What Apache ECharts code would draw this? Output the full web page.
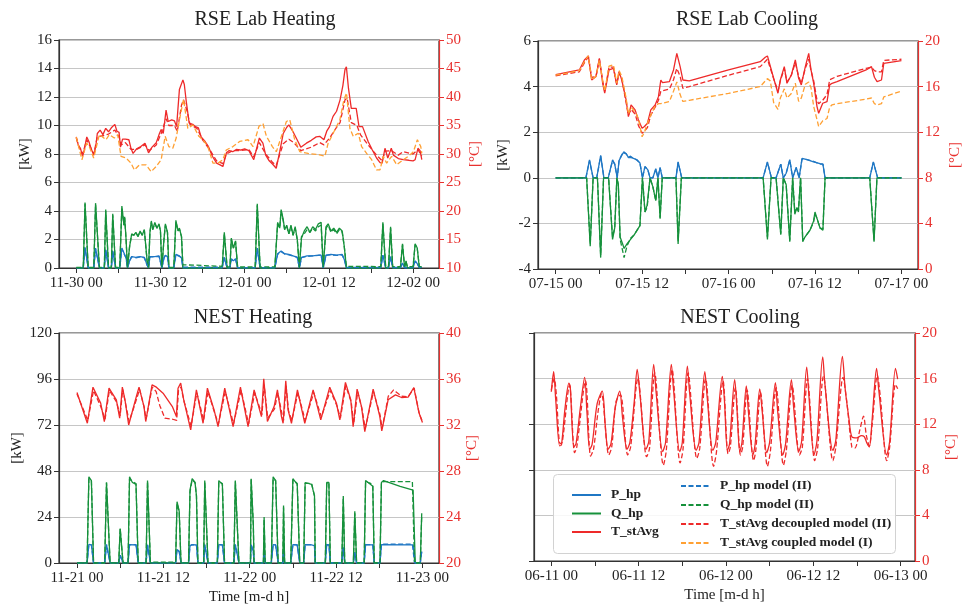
<!DOCTYPE html>
<html>
<head>
<meta charset="utf-8">
<title>Heat pump model validation</title>
<script src="https://cdn.jsdelivr.net/npm/echarts@6.0.0/dist/echarts.min.js"></script>
<style>
html, body { margin: 0; padding: 0; background: #fff; }
#chart { width: 962px; height: 610px; }
</style>
</head>
<body>
<div id="chart"></div>
<script>
// x values are hours since the first tick of each panel

// ---- RSE Lab Heating ----
var rseHeatTicks = ['11-30 00', '11-30 12', '12-01 00', '12-01 12', '12-02 00'];
var rseHeatP = [[0,0],[1.0,0],[1.25,1.45],[1.7,0],[2.5,0],[2.75,1.4],[3.3,0],[4.0,0],[4.2,1.3],[4.6,0],[5.0,0],[5.2,1.2],[5.6,0],[6.2,0],[6.5,1.4],[6.8,1.05],[7.1,0.7],[7.3,0],[7.6,0.5],[7.9,0.8],[8.5,0.75],[9.1,0.8],[9.7,0.75],[9.9,0.8],[10.1,0.2],[10.3,0],[10.5,0.8],[10.7,0.9],[11.2,0.8],[11.8,0.85],[12.0,0.8],[12.2,0],[12.5,0.7],[12.7,0.9],[13.0,0.8],[13.2,0],[13.9,0],[14.2,0.95],[14.7,0.85],[15.0,0.7],[15.2,0],[20.8,0],[21.1,0.75],[21.5,0],[21.9,0],[22.1,0.65],[22.4,0.5],[22.7,0.65],[23.0,0],[25.5,0],[25.8,1.4],[26.2,0],[28.3,0],[28.7,1.0],[29.2,1.2],[29.7,1.0],[30.3,0.95],[30.9,0.85],[31.5,0.75],[31.8,0],[32.1,0.75],[32.9,0.85],[33.7,0.85],[34.5,0.9],[34.9,0.9],[35.2,0],[35.6,0.9],[36.3,0.95],[37.1,0.9],[37.9,0.95],[38.2,0.6],[38.5,0],[43.4,0],[43.7,0.9],[44.1,0],[44.5,0],[44.8,0.8],[45.1,0],[46.2,0],[46.5,0.35],[46.8,0],[48.0,0],[48.3,0.5],[48.6,0.3],[48.9,0],[49.25,0.05]];
var rseHeatQ = [[0,0],[1.0,0],[1.25,4.6],[1.7,0],[2.5,0],[2.75,4.55],[3.3,0],[4.0,0],[4.2,4.1],[4.6,0],[5.0,0],[5.2,3.8],[5.6,0],[6.2,0],[6.5,4.35],[6.8,3.0],[6.9,3.6],[7.1,2.0],[7.3,0],[7.6,1.5],[7.9,2.4],[8.2,2.3],[8.5,2.5],[8.8,2.2],[9.1,2.6],[9.4,2.3],[9.7,2.7],[9.9,2.8],[10.1,0.5],[10.3,0],[10.5,2.5],[10.7,3.3],[10.9,2.7],[11.2,3.2],[11.5,2.8],[11.8,3.1],[12.0,2.6],[12.2,0],[12.5,2.0],[12.7,3.1],[13.0,2.5],[13.2,0],[13.9,0],[14.2,3.35],[14.5,2.6],[14.7,2.8],[15.0,2.2],[15.2,0],[20.8,0],[21.1,2.5],[21.5,0],[21.9,0],[22.1,2.1],[22.4,1.4],[22.7,1.9],[23.0,0],[25.5,0],[25.8,4.5],[26.2,0],[28.3,0],[28.7,3.2],[29.0,2.8],[29.2,4.1],[29.5,3.4],[29.7,2.7],[30.0,3.0],[30.3,2.4],[30.6,3.0],[30.9,2.3],[31.2,2.9],[31.5,2.0],[31.8,0],[32.1,2.1],[32.5,2.6],[32.9,2.9],[33.3,2.5],[33.7,2.9],[34.1,2.7],[34.5,3.1],[34.9,3.2],[35.2,0],[35.6,2.9],[35.9,3.1],[36.3,2.6],[36.7,2.8],[37.1,2.5],[37.5,2.8],[37.9,2.6],[38.2,1.5],[38.5,0],[43.4,0],[43.7,3.2],[44.1,0],[44.5,0],[44.8,2.9],[45.1,0],[46.2,0],[46.5,1.7],[46.8,0],[47.0,0.5],[47.2,0],[48.0,0],[48.3,1.7],[48.6,1.4],[48.9,0],[49.25,0.1]];
var rseHeatT = [[0,33.0],[0.3,31.5],[0.6,31.0],[0.9,29.6],[1.1,30.5],[1.5,33.0],[1.8,32.2],[2.1,31.0],[2.5,29.8],[2.8,31.5],[3.0,33.6],[3.4,34.2],[3.8,33.4],[4.2,34.5],[4.6,33.9],[5.0,34.6],[5.5,35.2],[5.8,34.0],[6.1,33.8],[6.3,31.2],[6.6,32.6],[7.0,32.6],[7.5,32.5],[7.8,31.0],[8.1,30.1],[8.6,30.9],[9.2,31.3],[9.8,31.9],[10.3,30.2],[10.8,31.2],[11.4,32.0],[11.8,33.4],[12.1,34.3],[12.4,33.6],[12.8,37.7],[13.1,35.7],[13.6,36.0],[14.0,35.8],[14.3,34.8],[14.7,41.3],[15.2,43.0],[15.4,42.2],[15.7,39.0],[16.1,35.4],[16.6,35.2],[17.0,34.8],[17.4,34.6],[17.8,33.0],[18.3,32.3],[18.8,31.4],[19.4,29.6],[20.0,28.4],[20.5,28.1],[20.9,27.8],[21.4,30.2],[21.8,30.6],[22.3,30.4],[22.8,30.8],[23.4,30.7],[24.0,30.9],[24.6,30.6],[25.3,29.0],[25.8,31.4],[26.1,32.8],[26.6,31.9],[27.0,29.8],[27.5,28.8],[28.0,28.2],[28.5,27.5],[29.0,30.4],[29.5,33.6],[30.0,34.7],[30.3,35.1],[30.9,33.9],[31.6,32.2],[32.0,31.2],[32.8,31.9],[33.5,32.4],[34.2,33.0],[34.7,33.1],[35.3,32.5],[35.7,34.0],[36.1,34.8],[36.6,36.6],[37.1,37.5],[37.6,39.5],[38.0,42.0],[38.3,44.8],[38.5,45.3],[38.8,41.5],[39.2,38.0],[39.9,38.0],[40.3,34.8],[40.8,34.8],[41.6,32.2],[42.2,30.7],[42.8,29.3],[43.3,28.5],[43.6,28.4],[44.0,31.0],[44.4,29.3],[44.9,31.0],[45.2,29.8],[45.9,29.2],[46.6,29.0],[47.4,28.9],[48.0,28.8],[48.3,29.0],[48.7,31.0],[49.0,30.6],[49.25,29.0]];
var rseHeatPm = [[0,0.02],[1.0,0.02],[1.25,1.4],[1.7,0.02],[2.5,0.02],[2.75,1.35],[3.3,0.02],[4.0,0.02],[4.2,1.25],[4.6,0.02],[5.0,0.02],[5.2,1.15],[5.6,0.02],[6.2,0.02],[6.5,1.35],[6.8,1.0],[7.1,0.7],[7.3,0.02],[7.6,0.5],[7.9,0.8],[8.5,0.72],[9.1,0.78],[9.7,0.72],[9.9,0.78],[10.1,0.2],[10.3,0.02],[10.5,0.8],[10.7,0.88],[11.2,0.78],[11.8,0.82],[12.0,0.8],[12.2,0.02],[12.5,0.7],[12.7,0.88],[13.0,0.8],[13.2,0.02],[13.9,0.02],[14.2,0.92],[14.7,0.82],[15.0,0.7],[15.2,0.06],[20.8,0.05],[21.1,0.72],[21.5,0.03],[21.9,0.03],[22.1,0.62],[22.4,0.5],[22.7,0.62],[23.0,0.03],[25.5,0.03],[25.8,1.35],[26.2,0.03],[28.3,0.03],[28.7,0.95],[29.2,1.15],[29.7,0.98],[30.3,0.92],[30.9,0.85],[31.5,0.75],[31.8,0.03],[32.1,0.72],[32.9,0.82],[33.7,0.85],[34.5,0.88],[34.9,0.9],[35.2,0.03],[35.6,0.88],[36.3,0.92],[37.1,0.88],[37.9,0.92],[38.2,0.6],[38.5,0.05],[43.4,0.04],[43.7,0.88],[44.1,0.04],[44.5,0.04],[44.8,0.78],[45.1,0.04],[46.2,0.04],[46.5,0.35],[46.8,0.04],[48.0,0.04],[48.3,0.48],[48.6,0.3],[48.9,0.04],[49.25,0.05]];
var rseHeatQm = [[0,0.05],[1.0,0.05],[1.25,4.5],[1.7,0.05],[2.5,0.05],[2.75,4.45],[3.3,0.05],[4.0,0.05],[4.2,4.0],[4.6,0.05],[5.0,0.05],[5.2,3.7],[5.6,0.05],[6.2,0.05],[6.5,4.25],[6.8,3.0],[6.9,3.5],[7.1,2.0],[7.3,0.05],[7.6,1.5],[7.9,2.35],[8.2,2.3],[8.5,2.45],[8.8,2.25],[9.1,2.55],[9.4,2.3],[9.7,2.65],[9.9,2.7],[10.1,0.5],[10.3,0.05],[10.5,2.5],[10.7,3.2],[10.9,2.7],[11.2,3.1],[11.5,2.8],[11.8,3.0],[12.0,2.6],[12.2,0.05],[12.5,2.0],[12.7,3.0],[13.0,2.5],[13.2,0.05],[13.9,0.05],[14.2,3.25],[14.5,2.6],[14.7,2.75],[15.0,2.2],[15.2,0.22],[17.0,0.2],[19.0,0.15],[20.8,0.12],[21.1,2.4],[21.5,0.08],[21.9,0.08],[22.1,2.0],[22.4,1.4],[22.7,1.85],[23.0,0.08],[25.5,0.08],[25.8,4.4],[26.2,0.08],[28.3,0.08],[28.7,3.1],[29.0,2.8],[29.2,4.0],[29.5,3.3],[29.7,2.7],[30.0,2.9],[30.3,2.4],[30.6,2.9],[30.9,2.3],[31.2,2.8],[31.5,2.0],[31.8,0.08],[32.1,2.2],[32.5,2.4],[32.9,2.7],[33.3,2.5],[33.7,2.8],[34.1,2.6],[34.5,2.9],[34.9,3.0],[35.2,0.08],[35.6,2.8],[35.9,3.0],[36.3,2.5],[36.7,2.7],[37.1,2.4],[37.5,2.7],[37.9,2.5],[38.2,1.5],[38.5,0.12],[43.4,0.1],[43.7,3.1],[44.1,0.1],[44.5,0.1],[44.8,2.8],[45.1,0.1],[46.2,0.1],[46.5,1.65],[46.8,0.1],[47.0,0.45],[47.2,0.1],[48.0,0.1],[48.3,1.65],[48.6,1.35],[48.9,0.1],[49.25,0.1]];
var rseHeatTdec = [[0,32.8],[0.4,31.2],[0.9,30.0],[1.5,32.5],[2.5,30.0],[3.0,33.0],[3.8,33.2],[4.6,33.5],[5.5,34.2],[6.1,33.0],[6.4,31.6],[7.0,32.0],[7.8,30.8],[8.6,30.8],[9.8,31.6],[10.4,30.6],[11.4,31.6],[12.1,33.6],[12.8,36.2],[13.2,35.0],[14.0,35.0],[14.4,34.0],[15.0,38.6],[15.3,39.5],[15.8,37.5],[16.2,35.2],[17.2,34.5],[18.0,32.5],[19.0,30.8],[20.0,28.8],[20.9,28.3],[21.4,30.0],[22.3,30.6],[23.4,30.6],[24.6,30.8],[25.3,29.5],[26.1,32.0],[27.0,30.0],[28.0,28.5],[28.5,28.0],[29.5,31.8],[30.3,32.6],[31.0,32.0],[32.0,30.6],[33.5,31.2],[34.7,32.0],[35.3,31.6],[36.1,32.8],[37.0,34.5],[37.6,35.5],[38.3,39.5],[38.6,39.8],[39.2,35.5],[40.0,35.0],[40.5,33.4],[41.6,31.6],[42.8,29.8],[43.6,28.8],[44.0,30.5],[44.9,30.6],[45.9,29.8],[46.6,30.4],[48.0,30.0],[48.7,30.8],[49.25,29.6]];
var rseHeatTcou = [[0,32.95],[0.81,29.0],[1.48,31.9],[1.86,31.3],[2.48,29.3],[3.29,33.4],[4.24,32.5],[4.71,33.4],[5.43,32.8],[5.9,33.4],[6.38,29.6],[7.1,29.3],[7.8,28.4],[8.29,27.2],[9.0,28.1],[9.95,28.1],[10.67,26.9],[11.38,27.8],[12.1,29.0],[12.67,33.1],[13.19,31.3],[13.76,31.0],[14.24,32.8],[14.71,36.0],[15.29,39.6],[15.9,34.5],[16.62,35.1],[17.48,33.1],[18.05,32.5],[18.76,31.3],[19.48,28.4],[20.2,28.4],[20.9,29.0],[21.38,30.7],[22.33,31.3],[23.29,32.2],[24.48,32.5],[25.19,31.3],[26.05,34.9],[26.62,35.3],[27.1,33.1],[27.95,31.3],[28.52,30.4],[29.24,33.1],[29.95,35.7],[30.43,36.0],[31.14,32.5],[31.86,30.4],[33.05,30.1],[34.71,29.85],[35.43,29.6],[35.9,31.9],[36.62,33.65],[37.57,36.0],[38.14,39.5],[38.52,40.7],[39.0,34.5],[39.48,33.1],[40.19,33.65],[40.67,31.3],[41.38,30.1],[42.1,29.0],[42.8,27.2],[43.29,27.2],[43.76,29.6],[44.24,28.4],[44.95,29.6],[45.67,28.1],[46.62,29.0],[47.33,29.6],[48.05,30.4],[48.62,32.5],[49.1,31.3],[49.25,30.1]];

// ---- RSE Lab Cooling ----
var rseCoolTicks = ['07-15 00', '07-15 12', '07-16 00', '07-16 12', '07-17 00'];
var rseCoolP = [[0,0],[4.2,0],[4.7,0.79],[5.2,0],[5.7,0],[6.25,0.98],[6.7,0],[7.3,0],[7.9,0.79],[8.2,0.6],[8.55,0],[8.8,0.75],[9.1,0.95],[9.4,1.1],[9.8,1.05],[10.1,0.9],[10.4,0.95],[10.8,0.85],[11.25,0.8],[11.7,0.65],[12.05,0],[12.4,0.5],[12.8,0.35],[13.1,0],[13.5,0],[13.9,0.4],[14.2,0],[14.5,0.45],[14.8,0],[16.7,0],[17.0,0.7],[17.5,0],[28.8,0],[29.4,0.7],[29.95,0],[30.6,0],[31.25,0.6],[31.6,0],[32.0,0.2],[32.5,0.8],[32.9,0],[33.0,0],[33.4,0.45],[33.8,0],[34.2,0.85],[34.9,0.8],[35.8,0.7],[36.7,0.62],[37.1,0.6],[37.4,0],[43.6,0],[44.1,0.7],[44.7,0],[48,0]];
var rseCoolQ = [[0,0],[4.3,0],[4.8,-3.0],[5.2,0],[5.8,0],[6.25,-3.5],[6.65,0],[7.35,0],[7.9,-2.7],[8.2,-2.2],[8.5,0],[8.7,-0.3],[8.95,-2.6],[9.3,-2.9],[9.5,-3.1],[9.9,-2.9],[10.4,-2.7],[10.9,-2.5],[11.7,-2.1],[12.05,0],[12.4,-1.5],[12.7,-1.2],[13.1,0],[13.5,-0.4],[13.9,-1.0],[14.2,0],[14.5,-1.8],[14.8,0],[16.7,0],[17.0,-2.9],[17.45,0],[28.8,0],[29.4,-2.7],[29.9,0],[30.6,0],[31.25,-2.5],[31.6,0],[32.0,-0.3],[32.5,-2.8],[32.9,0],[33.2,-1.6],[33.5,-1.3],[33.7,-1.5],[34.0,0],[34.3,-2.8],[34.6,-2.6],[35.3,-2.3],[35.8,-1.9],[36.0,-1.5],[36.3,-1.8],[36.7,-2.2],[37.1,-2.3],[37.4,0],[43.6,0],[44.2,-2.8],[44.6,0],[48,0]];
var rseCoolT = [[0,17.05],[3.29,17.46],[3.99,18.34],[4.54,18.69],[5.0,16.58],[5.6,16.88],[6.07,18.48],[6.53,16.29],[6.81,15.42],[7.41,17.46],[8.02,17.6],[8.48,16.15],[8.8,17.31],[9.18,16.58],[9.78,14.83],[10.1,13.37],[10.47,14.39],[11.03,13.96],[11.49,13.08],[12.0,12.35],[12.33,12.5],[12.74,12.79],[13.21,13.96],[13.81,14.39],[14.27,15.12],[14.6,16.58],[14.83,16.35],[15.8,16.44],[16.36,17.46],[16.82,18.92],[17.28,17.75],[17.66,16.58],[18.54,16.5],[24.0,17.46],[28.4,18.19],[29.1,18.57],[29.4,18.69],[30.26,16.73],[30.86,15.42],[31.19,16.58],[31.74,17.75],[32.11,16.29],[32.72,17.02],[33.27,18.34],[33.73,16.73],[34.1,16.15],[34.66,17.75],[35.13,18.92],[35.45,17.46],[35.82,16.29],[36.28,14.25],[36.51,13.66],[37.07,14.54],[37.67,14.69],[38.04,16.15],[38.37,16.29],[39.06,16.44],[43.1,17.46],[43.84,17.75],[44.25,16.82],[44.62,16.44],[45.23,16.58],[45.55,18.04],[48.0,18.28]];
var rseCoolPm = [[0,0],[4.2,0],[4.7,0.75],[5.2,0],[5.7,0],[6.25,0.95],[6.7,0],[7.3,0],[7.9,0.75],[8.2,0.6],[8.55,0],[8.8,0.75],[9.1,0.95],[9.4,1.15],[9.8,1.05],[10.1,0.88],[10.4,0.9],[10.8,0.85],[11.25,0.78],[11.7,0.65],[12.05,0],[12.4,0.48],[12.8,0.35],[13.1,0],[13.5,0],[13.9,0.38],[14.2,0],[14.5,0.45],[14.8,0],[16.7,0],[17.0,0.68],[17.5,0],[28.8,0],[29.4,0.68],[29.95,0],[30.6,0],[31.25,0.6],[31.6,0],[32.0,0.2],[32.5,0.78],[32.9,0],[33.0,0],[33.4,0.45],[33.8,0],[34.2,0.82],[34.9,0.8],[35.8,0.72],[36.7,0.6],[37.1,0.6],[37.4,0],[43.6,0],[44.1,0.68],[44.7,0],[48,0]];
var rseCoolQm = [[0,0],[4.3,0],[4.8,-2.9],[5.2,0],[5.8,0],[6.25,-3.4],[6.65,0],[7.35,0],[7.9,-2.6],[8.2,-2.2],[8.5,0],[8.7,-0.3],[8.95,-2.7],[9.3,-3.2],[9.5,-3.5],[9.9,-3.0],[10.4,-2.65],[10.9,-2.5],[11.7,-2.1],[12.05,0],[12.4,-1.5],[12.7,-1.3],[13.1,0],[13.5,-0.4],[13.9,-1.0],[14.2,0],[14.5,-1.75],[14.8,0],[16.7,0],[17.0,-2.8],[17.45,0],[28.8,0],[29.4,-2.6],[29.9,0],[30.6,0],[31.25,-2.45],[31.6,0],[32.0,-0.3],[32.5,-2.75],[32.9,0],[33.2,-1.5],[33.5,-1.3],[33.7,-1.45],[34.0,0],[34.3,-2.75],[34.6,-2.6],[35.3,-2.3],[35.8,-1.95],[36.0,-1.6],[36.3,-1.8],[36.7,-2.2],[37.1,-2.25],[37.4,0],[43.6,0],[44.2,-2.75],[44.6,0],[48,0]];
var rseCoolTdec = [[0,16.95],[3.29,17.3],[4.0,18.1],[4.54,18.6],[5.0,16.8],[5.6,16.9],[6.07,18.4],[6.53,16.5],[6.81,15.6],[7.41,17.7],[8.02,17.7],[8.48,16.2],[8.8,17.2],[9.18,16.7],[9.78,14.6],[10.1,13.5],[10.47,14.0],[11.03,13.6],[11.49,12.6],[12.0,11.9],[12.33,12.1],[12.74,12.4],[13.21,13.5],[13.81,14.2],[14.27,14.8],[14.6,15.6],[14.83,15.7],[15.8,15.8],[16.36,16.6],[16.82,17.6],[17.28,16.9],[17.66,15.85],[18.54,16.0],[24.0,17.0],[28.4,17.75],[29.1,18.2],[29.4,18.4],[30.26,16.7],[30.86,15.6],[31.19,16.5],[31.74,17.6],[32.11,16.4],[32.72,17.0],[33.27,18.1],[33.73,16.9],[34.1,16.3],[34.66,17.6],[35.13,18.4],[35.45,17.4],[35.82,16.5],[36.28,14.8],[36.51,14.5],[37.07,14.8],[37.67,15.3],[38.04,16.6],[39.06,16.9],[43.1,17.6],[43.84,17.7],[44.25,17.4],[44.62,17.3],[45.23,17.3],[45.55,18.3],[48.0,18.4]];
var rseCoolTcou = [[0,17.0],[3.29,17.4],[4.0,18.2],[4.54,18.7],[5.0,16.6],[5.6,16.9],[6.07,18.3],[6.53,16.5],[6.81,15.6],[7.41,17.8],[8.02,17.9],[8.48,16.3],[8.8,17.4],[9.18,16.9],[9.78,15.0],[10.1,13.6],[10.47,14.2],[11.03,13.8],[11.49,13.2],[12.0,11.6],[12.33,12.0],[12.74,12.8],[13.21,13.5],[13.81,14.3],[14.27,14.5],[14.6,14.5],[15.8,14.7],[16.36,15.6],[16.82,16.4],[17.28,15.3],[17.66,14.7],[18.54,14.8],[24.0,15.4],[28.4,16.0],[29.1,16.5],[29.4,16.7],[29.8,16.5],[30.26,14.6],[30.86,14.0],[31.19,15.0],[31.74,15.8],[32.11,15.0],[32.72,15.4],[33.27,16.3],[33.73,14.7],[34.1,15.0],[34.66,16.2],[35.13,16.4],[35.45,15.9],[35.82,14.25],[36.28,13.1],[36.51,12.5],[37.07,13.0],[37.67,13.2],[38.04,14.2],[38.37,14.4],[39.06,14.5],[43.1,14.9],[43.84,15.0],[44.25,14.5],[44.62,14.4],[45.23,14.5],[45.55,15.1],[48.0,15.6]];

// ---- NEST Heating ----
var nestHeatTicks = ['11-21 00', '11-21 12', '11-22 00', '11-22 12', '11-23 00'];
var nestHeatP = [[0,0],[1.4,0],[1.65,9.7],[2.0,9.5],[2.3,0],[3.85,0],[4.1,9.6],[4.35,9.5],[4.6,0],[5.8,0],[6.0,4],[6.25,4],[6.4,0],[7.1,0],[7.3,9.6],[8.2,9.5],[8.5,0],[9.6,0],[9.8,9.5],[10.0,9.4],[10.2,0],[13.7,0],[13.9,7],[14.2,6],[14.45,0],[15.5,0],[15.7,9],[16.0,9.6],[16.6,9.4],[16.8,0],[17.6,0],[17.75,9.6],[18.0,9.5],[18.2,0],[19.5,0],[19.7,9.6],[20.2,9.5],[20.5,0],[21.8,0],[22.0,9.6],[22.2,9.5],[22.5,0],[24.1,0],[24.2,9.6],[24.5,6],[24.6,0],[25.9,0],[26.0,5.5],[26.15,0],[27.0,0],[27.25,9.6],[27.6,9.5],[27.95,0],[28.6,0],[28.7,6.5],[28.85,0],[29.7,0],[30.0,9.6],[30.6,9.5],[30.95,0],[31.5,0],[31.7,9.6],[32.6,9.5],[33.0,9],[33.1,0],[34.5,0],[34.7,9.6],[35.0,9.5],[35.2,0],[36.8,0],[37.0,8],[37.2,0],[38.4,0],[38.6,5.5],[38.85,0],[39.9,0],[40.1,9.6],[41.1,9.5],[41.3,0],[42.1,0],[42.3,9.6],[46.7,9.5],[47.0,0],[47.7,0],[47.9,6]];
var nestHeatQ = [[0,0],[1.4,0],[1.65,45],[2.0,43],[2.3,0],[3.85,0],[4.1,42],[4.35,43],[4.6,0],[5.8,0],[6.0,18],[6.25,18],[6.4,0],[7.1,0],[7.3,45],[7.7,42],[8.2,41],[8.5,0],[9.6,0],[9.8,43],[10.0,42],[10.2,0],[13.7,0],[13.9,32],[14.2,27],[14.45,0],[15.5,0],[15.7,38],[16.0,44],[16.4,42],[16.6,35],[16.8,0],[17.6,0],[17.75,43],[18.0,42],[18.2,0],[19.5,0],[19.7,43],[20.2,41],[20.5,0],[21.8,0],[22.0,43],[22.2,42],[22.5,0],[24.1,0],[24.2,44],[24.5,20],[24.6,0],[25.9,0],[26.0,24],[26.15,0],[27.0,0],[27.25,45],[27.6,43],[27.95,0],[28.6,0],[28.7,30],[28.85,0],[29.7,0],[30.0,44],[30.6,41],[30.95,0],[31.5,0],[31.7,42],[32.6,41],[33.0,35],[33.1,0],[34.5,0],[34.7,42],[35.0,42],[35.2,0],[36.8,0],[37.0,35],[37.2,0],[38.4,0],[38.6,27],[38.85,0],[39.9,0],[40.1,43],[40.8,41],[41.1,40],[41.3,0],[42.1,0],[42.3,42],[42.6,43],[44.9,40],[46.7,38],[47.0,0],[47.7,0],[47.9,26]];
var nestHeatT = [[0,34.83],[1.44,32.15],[2.22,35.29],[3.29,33.9],[3.8,32.3],[4.45,35.2],[5.47,34.19],[5.93,32.59],[6.3,35.29],[6.67,34.19],[7.18,32.0],[8.25,34.48],[8.62,35.29],[9.31,33.6],[9.55,32.3],[10.43,35.49],[11.03,35.29],[11.96,34.77],[13.25,33.6],[13.81,32.73],[14.04,35.2],[14.41,35.64],[14.83,34.19],[15.8,31.57],[16.59,35.06],[17.52,32.15],[18.12,35.2],[19.05,33.31],[19.6,31.86],[20.53,35.2],[21.69,31.86],[22.71,35.29],[23.77,31.86],[24.61,35.06],[25.63,32.73],[25.95,36.02],[26.46,32.3],[27.39,33.6],[27.85,35.06],[28.41,32.73],[28.64,32.15],[29.01,35.84],[29.33,33.31],[29.8,32.15],[30.63,35.06],[31.65,32.15],[32.81,35.06],[33.87,32.44],[35.12,35.29],[36.05,33.9],[36.52,32.44],[37.3,35.7],[38.04,34.19],[38.37,31.86],[38.92,35.12],[39.53,33.6],[39.99,31.42],[41.15,35.12],[42.08,32.73],[42.35,31.48],[43.23,34.19],[44.25,34.62],[45.09,34.39],[46.01,34.42],[46.8,35.26],[47.54,33.02],[48.0,32.21]];
var nestHeatPm = [[0,0],[1.4,0],[1.65,9.6],[2.0,9.5],[2.3,0],[3.85,0],[4.1,9.6],[4.35,9.5],[4.6,0],[5.8,0],[6.0,4],[6.25,4],[6.4,0],[7.1,0],[7.3,9.6],[8.2,9.6],[8.5,0],[9.6,0],[9.8,9.5],[10.0,9.4],[10.2,0.1],[13.7,0.1],[13.9,7],[14.2,6],[14.45,0],[15.5,0],[15.7,9],[16.0,9.6],[16.6,9.4],[16.8,0],[17.6,0],[17.75,9.6],[18.0,9.5],[18.2,0],[19.5,0],[19.7,9.6],[20.2,9.5],[20.5,0],[21.8,0],[22.0,9.6],[22.2,9.5],[22.5,0],[24.1,0],[24.2,9.6],[24.5,6],[24.6,0],[25.9,0],[26.0,5.5],[26.15,0],[27.0,0],[27.25,9.6],[27.6,9.5],[27.95,0],[28.6,0],[28.7,6.5],[28.85,0],[29.7,0],[30.0,9.6],[30.6,9.5],[30.95,0],[31.5,0],[31.7,9.6],[32.6,9.6],[33.0,9],[33.1,0],[34.5,0],[34.7,9.6],[35.0,9.5],[35.2,0],[36.8,0],[37.0,8],[37.2,0],[38.4,0],[38.6,5.5],[38.85,0],[39.9,0],[40.1,9.6],[41.1,9.6],[41.3,0],[42.1,0],[42.3,9.8],[46.6,9.8],[46.9,0],[47.7,0],[47.9,6]];
var nestHeatQm = [[0,0],[1.4,0],[1.65,44],[2.0,43],[2.3,0],[3.85,0],[4.1,42],[4.35,42.5],[4.6,0],[5.8,0],[6.0,18],[6.25,17.5],[6.4,0],[7.1,0],[7.3,44],[7.7,42.5],[8.2,41.5],[8.5,0],[9.6,0],[9.8,42.5],[10.0,42],[10.2,0.5],[13.7,0.5],[13.9,31],[14.2,27],[14.45,0],[15.5,0],[15.7,37],[16.0,43.5],[16.4,42],[16.6,35],[16.8,0],[17.6,0],[17.75,42.5],[18.0,42],[18.2,0],[19.5,0],[19.7,42.5],[20.2,41.5],[20.5,0],[21.8,0],[22.0,42.5],[22.2,42],[22.5,0],[24.1,0],[24.2,43.5],[24.5,20],[24.6,0],[25.9,0],[26.0,23],[26.15,0],[27.0,0],[27.25,44],[27.6,43],[27.95,0],[28.6,0],[28.7,29],[28.85,0],[29.7,0],[30.0,43.5],[30.6,41.5],[30.95,0],[31.5,0],[31.7,41.5],[32.6,41.5],[33.0,35],[33.1,0],[34.5,0],[34.7,41.5],[35.0,42],[35.2,0],[36.8,0],[37.0,34],[37.2,0],[38.4,0],[38.6,26],[38.85,0],[39.9,0],[40.1,42.5],[40.8,41.5],[41.1,40.5],[41.3,0],[42.1,0],[42.3,42],[42.6,42.5],[46.6,42.5],[46.9,0],[47.7,0],[47.9,25]];
var nestHeatTdec = [[0,34.7],[1.5,32.4],[2.3,35.0],[3.3,33.6],[3.9,32.5],[4.5,35.0],[5.5,34.0],[6.0,32.8],[6.35,35.1],[6.7,34.0],[7.25,32.3],[8.3,34.3],[8.7,35.1],[9.35,33.5],[9.6,32.5],[10.45,35.3],[11.0,34.9],[11.5,33.7],[12.2,32.6],[13.3,32.5],[13.85,32.4],[14.1,35.0],[14.45,35.3],[14.9,34.0],[15.85,31.9],[16.65,34.8],[17.6,32.4],[18.2,34.9],[19.1,33.1],[19.65,32.1],[20.6,34.9],[21.75,32.1],[22.8,35.0],[23.85,32.1],[24.7,34.8],[25.7,32.9],[26.0,35.5],[26.5,32.6],[27.45,33.4],[27.9,34.8],[28.5,32.9],[28.7,32.4],[29.05,35.4],[29.4,33.2],[29.85,32.4],[30.7,34.8],[31.7,32.4],[32.9,34.8],[33.95,32.7],[35.2,35.0],[36.1,33.7],[36.6,32.6],[37.35,35.4],[38.1,34.0],[38.45,32.1],[39.0,34.9],[39.6,33.4],[40.05,31.7],[41.2,34.9],[42.1,32.9],[42.4,31.7],[43.25,34.5],[44.0,35.05],[44.3,34.9],[45.1,34.5],[46.0,34.45],[46.85,35.2],[47.55,33.0],[48.0,32.3]];

// ---- NEST Cooling ----
var nestCoolTicks = ['06-11 00', '06-11 12', '06-12 00', '06-12 12', '06-13 00'];
var nestCoolT = [[0,14.85],[0.32,16.6],[0.6,14.2],[1.14,10.1],[1.4,10.2],[1.9,13.5],[2.42,15.6],[2.6,15.3],[3.1,10.0],[3.4,10.3],[4.0,13.5],[4.58,16.1],[4.9,13.0],[5.27,9.8],[5.6,10.2],[6.3,13.8],[7.0,14.9],[7.4,12.0],[7.8,9.8],[8.2,10.3],[8.8,13.5],[9.4,14.9],[9.8,12.5],[10.4,9.8],[10.8,10.4],[11.4,14.0],[11.8,16.8],[12.2,14.5],[13.0,9.8],[13.4,10.5],[14.07,17.25],[14.4,14.8],[15.3,9.6],[15.7,10.4],[16.5,17.25],[16.8,15.0],[17.65,9.6],[18.0,10.4],[18.7,17.1],[19.0,14.8],[19.9,9.7],[20.3,10.4],[21.1,16.6],[21.4,14.5],[22.2,9.7],[22.6,10.4],[23.5,16.2],[23.8,14.0],[24.2,9.7],[24.5,10.3],[25.2,15.9],[25.5,13.5],[25.9,9.6],[26.2,10.4],[26.8,15.35],[27.1,13.0],[27.7,9.3],[28.0,10.2],[28.65,15.1],[29.0,13.0],[29.6,9.5],[30.0,10.4],[30.8,15.65],[31.1,13.2],[31.8,9.3],[32.2,10.3],[33.0,15.9],[33.3,13.5],[34.0,9.6],[34.4,10.5],[35.1,17.0],[35.4,14.5],[36.1,9.3],[36.5,10.5],[37.3,17.9],[37.6,15.5],[38.7,9.7],[39.1,10.6],[40.0,17.95],[40.4,15.0],[40.9,12.5],[41.3,10.9],[42.0,10.8],[42.6,11.0],[43.0,10.9],[43.4,10.3],[43.7,10.0],[44.1,12.5],[44.7,16.9],[45.0,15.0],[46.1,9.3],[46.5,10.5],[47.3,16.9],[47.6,15.95]];
var nestCoolTdec = [[0,15.0],[0.4,16.0],[0.7,14.5],[1.2,10.3],[1.5,10.4],[2.5,15.4],[3.2,9.5],[3.5,10.0],[4.7,15.8],[5.4,9.2],[5.8,9.8],[6.4,13.0],[6.9,14.7],[7.9,9.3],[8.3,10.0],[8.9,14.0],[9.5,14.6],[10.5,9.3],[10.9,10.0],[11.9,16.0],[13.1,9.15],[13.5,9.9],[14.2,16.5],[15.4,8.4],[15.8,9.7],[16.6,16.8],[17.7,8.6],[18.1,9.8],[18.8,16.5],[20.0,9.0],[20.4,9.9],[21.2,16.0],[22.3,8.3],[22.7,9.6],[23.6,15.8],[24.3,9.4],[24.6,10.0],[25.3,15.2],[26.0,9.3],[26.3,10.0],[26.9,15.0],[27.8,8.8],[28.1,9.7],[28.75,14.8],[29.7,8.3],[30.1,9.6],[30.9,15.2],[31.9,8.4],[32.3,9.7],[33.1,15.4],[34.1,9.3],[34.5,10.0],[35.2,16.0],[36.2,8.8],[36.6,9.9],[37.4,16.2],[38.7,8.8],[39.1,10.0],[40.1,16.1],[40.6,14.0],[41.3,10.0],[41.7,9.9],[42.4,11.5],[42.9,12.7],[43.3,11.0],[43.7,10.1],[44.1,12.0],[44.8,16.3],[45.2,14.5],[46.1,8.8],[46.5,10.0],[47.3,15.5],[47.6,15.1]];

var FONT = 'Liberation Serif';
var C_BLUE = '#1f77c4', C_GREEN = '#16913b', C_RED = '#ee2a2a', C_ORANGE = '#ffa033';
var C_AXIS = '#333333', C_TEMP = '#e8312f', C_GRID = '#c6c6c6';
var NAMES = ['P_hp', 'Q_hp', 'T_stAvg', 'P_hp model (II)', 'Q_hp model (II)',
             'T_stAvg decoupled model (II)', 'T_stAvg coupled model (I)'];

var panels = [
    { title: 'RSE Lab Heating', tx: 260, ty: 5, grid: { left: 59, top: 40, width: 380, height: 228 },
      xMin: -2.46, xMax: 51.7, ticks: rseHeatTicks, kw: [0, 16, 2], temp: [10, 50, 5],
      kwGap: 26, tGap: 29, xName: '',
      P: rseHeatP, Q: rseHeatQ, T: rseHeatT, Pm: rseHeatPm, Qm: rseHeatQm, Td: rseHeatTdec, Tc: rseHeatTcou },
    { title: 'RSE Lab Cooling', tx: 742, ty: 5, grid: { left: 538, top: 41, width: 380, height: 228 },
      xMin: -2.45, xMax: 50.3, ticks: rseCoolTicks, kw: [-4, 6, 2], temp: [0, 20, 4],
      kwGap: 27, tGap: 30, xName: '',
      P: rseCoolP, Q: rseCoolQ, T: rseCoolT, Pm: rseCoolPm, Qm: rseCoolQm, Td: rseCoolTdec, Tc: rseCoolTcou },
    { title: 'NEST Heating', tx: 248, ty: 303, grid: { left: 59, top: 333, width: 380, height: 230 },
      xMin: -2.5, xMax: 50.3, ticks: nestHeatTicks, kw: [0, 120, 24], temp: [20, 40, 4],
      kwGap: 34, tGap: 24, xName: 'Time [m-d h]',
      P: nestHeatP, Q: nestHeatQ, T: nestHeatT, Pm: nestHeatPm, Qm: nestHeatQm, Td: nestHeatTdec, Tc: null },
    { title: 'NEST Cooling', tx: 735, ty: 303, grid: { left: 534, top: 333, width: 381, height: 228 },
      xMin: -2.38, xMax: 49.98, ticks: nestCoolTicks, kw: null, temp: [0, 20, 4],
      kwGap: 0, tGap: 29, xName: 'Time [m-d h]',
      P: null, Q: null, T: nestCoolT, Pm: null, Qm: null, Td: nestCoolTdec, Tc: null, smooth: 0.3 }
];

var tickFont = { fontFamily: FONT, fontSize: 15, color: '#222' };

function line(name, data, color, dashed, idx, yIdx, smooth) {
    return {
        name: name, type: 'line', xAxisIndex: idx, yAxisIndex: yIdx,
        data: data, symbol: 'none', showSymbol: false, smooth: smooth || false,
        silent: true, animation: false,
        lineStyle: { color: color, width: 1.3, type: dashed ? [5, 2.5] : 'solid' },
        itemStyle: { color: color }
    };
}

var grids = [], xAxes = [], yAxes = [], titles = [], series = [];
panels.forEach(function (p, i) {
    grids.push(Object.assign({ show: true, borderColor: C_AXIS, borderWidth: 1.2, outerBoundsMode: 'none', containLabel: false }, p.grid));
    titles.push({ text: p.title, left: p.tx, top: p.ty, textAlign: 'center',
        textStyle: { fontFamily: FONT, fontSize: 20, fontWeight: 'normal', color: '#222' } });

    var tickVals = [0, 6, 12, 18, 24, 30, 36, 42, 48];
    var labelVals = [0, 12, 24, 36, 48];
    var ticks = p.ticks;
    xAxes.push({
        gridIndex: i, type: 'value', min: p.xMin, max: p.xMax,
        axisLine: { show: true, onZero: false, lineStyle: { color: C_AXIS, width: 1.2 } },
        axisTick: { show: true, length: 5, customValues: tickVals, lineStyle: { color: C_AXIS } },
        axisLabel: Object.assign({ customValues: labelVals, margin: 8,
            formatter: function (v) { return ticks[Math.round(v / 12)]; } }, tickFont),
        splitLine: { show: false },
        name: p.xName, nameLocation: 'middle', nameGap: 27,
        nameTextStyle: { fontFamily: FONT, fontSize: 15, color: '#222' }
    });

    if (p.kw) {
        yAxes.push({
            gridIndex: i, type: 'value', position: 'left',
            min: p.kw[0], max: p.kw[1], interval: p.kw[2],
            axisLine: { show: true, onZero: false, lineStyle: { color: C_AXIS, width: 1.2 } },
            axisTick: { show: true, length: 5, lineStyle: { color: C_AXIS } },
            axisLabel: Object.assign({ margin: 7 }, tickFont),
            splitLine: { show: true, lineStyle: { color: C_GRID, width: 1.2 } },
            name: '[kW]', nameLocation: 'middle', nameGap: p.kwGap, nameRotate: 90,
            nameTextStyle: { fontFamily: FONT, fontSize: 15, color: '#222' }
        });
    } else {
        // left axis with no plotted power data: bare ticks only
        yAxes.push({
            gridIndex: i, type: 'value', position: 'left', min: 0, max: 1,
            axisLine: { show: true, onZero: false, lineStyle: { color: C_AXIS, width: 1.2 } },
            axisTick: { show: true, length: 5, customValues: [0, 0.4, 0.6, 1], lineStyle: { color: C_AXIS } },
            axisLabel: { show: false },
            splitLine: { show: false }
        });
    }
    yAxes.push({
        gridIndex: i, type: 'value', position: 'right',
        min: p.temp[0], max: p.temp[1], interval: p.temp[2],
        axisLine: { show: true, onZero: false, lineStyle: { color: C_TEMP, width: 1.2 } },
        axisTick: { show: true, length: 5, lineStyle: { color: C_TEMP } },
        axisLabel: { margin: 7, fontFamily: FONT, fontSize: 15, color: C_TEMP },
        splitLine: { show: !p.kw, lineStyle: { color: C_GRID, width: 1.2 } },
        name: '[°C]', nameLocation: 'middle', nameGap: p.tGap, nameRotate: 90,
        nameTextStyle: { fontFamily: FONT, fontSize: 15, color: C_TEMP }
    });

    var yl = yAxes.length - 2, yr = yAxes.length - 1;
    if (p.P) series.push(line(NAMES[0], p.P, C_BLUE, false, i, yl));
    if (p.Q) series.push(line(NAMES[1], p.Q, C_GREEN, false, i, yl));
    if (p.Pm) series.push(line(NAMES[3], p.Pm, C_BLUE, true, i, yl));
    if (p.Qm) series.push(line(NAMES[4], p.Qm, C_GREEN, true, i, yl));
    if (p.T) series.push(line(NAMES[2], p.T, C_RED, false, i, yr, p.smooth));
    if (p.Td) series.push(line(NAMES[5], p.Td, C_RED, true, i, yr, p.smooth));
    if (p.Tc) series.push(line(NAMES[6], p.Tc, C_ORANGE, true, i, yr, p.smooth));
});

var legendText = { fontFamily: FONT, fontSize: 13.5, fontWeight: 'bold', color: '#222', padding: [0, 0, 0, 5] };
// line-only legend keys (no marker)
var legendItem = { opacity: 0, borderWidth: 0 };

var option = {
    animation: false,
    textStyle: { fontFamily: FONT },
    title: titles,
    grid: grids,
    xAxis: xAxes,
    yAxis: yAxes,
    series: series,
    legend: [
        { data: NAMES.slice(0, 3), orient: 'vertical', left: 571, top: 488, padding: 0,
          itemWidth: 29, itemHeight: 14, itemGap: 4.5, z: 60, selectedMode: false,
          itemStyle: legendItem, textStyle: legendText },
        { data: NAMES.slice(3), orient: 'vertical', left: 680, top: 479, padding: 0,
          itemWidth: 29, itemHeight: 14, itemGap: 5, z: 60, selectedMode: false,
          itemStyle: legendItem, textStyle: legendText }
    ],
    graphic: [{
        type: 'rect', z: 50,
        shape: { x: 553.5, y: 474.5, width: 342, height: 79, r: 4 },
        style: { fill: 'rgba(255,255,255,0.85)', stroke: '#d2d2d2', lineWidth: 1 }
    }]
};

var chart = echarts.init(document.getElementById('chart'), null, { renderer: 'canvas' });
chart.setOption(option);
window.addEventListener('resize', function () { chart.resize(); });
</script>
</body>
</html>
